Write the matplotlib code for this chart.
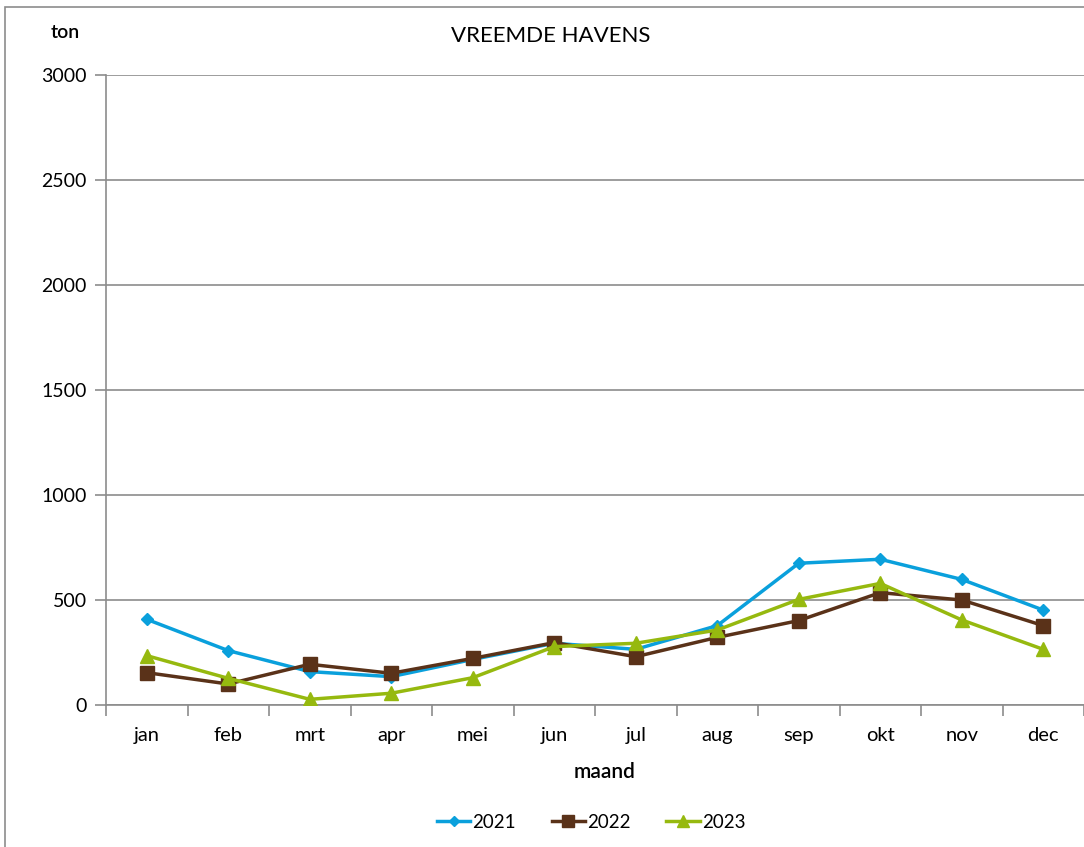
import matplotlib.pyplot as plt
from matplotlib.patches import Rectangle

plt.rcParams['font.family'] = ['Lato', 'DejaVu Sans']

# Data
maanden = ['jan', 'feb', 'mrt', 'apr', 'mei', 'jun', 'jul', 'aug', 'sep', 'okt', 'nov', 'dec']
v2021 = [408, 259, 159, 135, 217, 294, 265, 378, 675, 694, 598, 452]
v2022 = [154, 100, 194, 151, 222, 297, 230, 322, 402, 535, 500, 378]
v2023 = [235, 127, 27, 56, 130, 278, 294, 357, 503, 579, 405, 265]
jaren = ['2021', '2022', '2023']

W, H = 1084, 847
fig = plt.figure(figsize=(W / 100, H / 100), dpi=100)
ax = fig.add_axes([106 / W, 1 - 705 / H, (1084 - 106) / W, (705 - 75) / H])

# outer chart border
fig.patches.append(Rectangle((5 / W, -0.1), 1.2, 1 - 7 / H + 0.1, transform=fig.transFigure,
                             fill=False, edgecolor='#8c8c8c', linewidth=1.2))

x = list(range(len(maanden)))
ax.plot(x, v2021, color='#0aa0dc', linewidth=2.5, marker='D', markersize=6, label=jaren[0], zorder=3)
ax.plot(x, v2022, color='#5a3219', linewidth=2.5, marker='s', markersize=10, label=jaren[1], zorder=3)
ax.plot(x, v2023, color='#96b90f', linewidth=2.5, marker='^', markersize=10, label=jaren[2], zorder=3)

ax.set_xlim(-0.5, 11.5)
ax.set_ylim(0, 3000)
ax.set_yticks(range(0, 3001, 500))
ax.yaxis.grid(True, color='#8c8c8c', linewidth=1.2)
ax.set_axisbelow(True)

ax.set_xticks(x)
ax.set_xticklabels(maanden, fontsize=14.5)
ax.set_xticks([i + 0.5 for i in range(-1, 12)], minor=True)
ax.tick_params(axis='x', which='major', length=0, pad=16)
ax.tick_params(axis='x', which='minor', length=8, color='#8c8c8c', width=1.2)
ax.tick_params(axis='y', length=8, color='#8c8c8c', width=1.2, labelsize=14, pad=6)

for side in ['top', 'right']:
    ax.spines[side].set_visible(False)
for side in ['left', 'bottom']:
    ax.spines[side].set_color('#8c8c8c')
    ax.spines[side].set_linewidth(1.2)

ax.set_xlabel('maand', fontsize=15, fontweight='semibold')
ax.xaxis.set_label_coords(0.51, -0.09)
fig.text(551 / W, 1 - 36 / H, 'VREEMDE HAVENS', ha='center', va='center', fontsize=16)
fig.text(65 / W, 1 - 32 / H, 'ton', ha='center', va='center', fontsize=14, fontweight='semibold')

fig.legend(loc='center', bbox_to_anchor=(591 / W, 1 - 822 / H), ncol=3, frameon=False,
           fontsize=13.5, handlelength=1.8, columnspacing=1.9, handletextpad=0.1, markerscale=0.8)

fig.savefig('out.png', dpi=100)
